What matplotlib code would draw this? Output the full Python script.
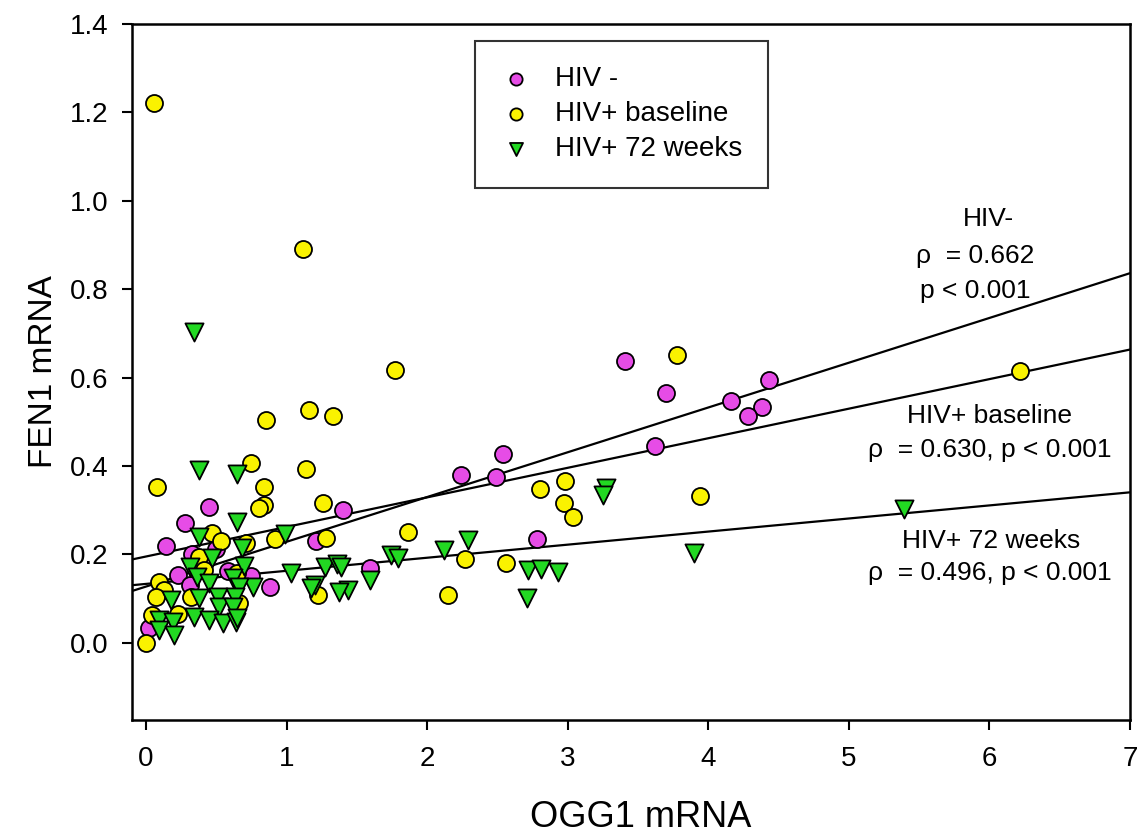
import matplotlib
matplotlib.use("Agg")
import matplotlib.pyplot as plt
import numpy as np

plt.rcParams['font.family'] = ['Liberation Sans', 'DejaVu Sans']

# HIV- (magenta circles)
hivneg_x = [3.41, 3.70, 4.43, 4.16, 4.38, 4.28, 3.62, 2.54, 2.24, 2.49, 1.40, 2.78, 1.59,
            0.45, 0.28, 0.14, 1.21, 0.88, 0.50, 0.23, 0.31, 0.02, 0.75, 0.58, 0.33]
hivneg_y = [0.638, 0.564, 0.595, 0.548, 0.534, 0.514, 0.444, 0.428, 0.379, 0.374, 0.300, 0.234, 0.169,
            0.307, 0.271, 0.219, 0.230, 0.126, 0.212, 0.153, 0.131, 0.034, 0.151, 0.162, 0.200]

# HIV+ baseline (yellow circles)
base_x = [0.06, 1.12, 1.77, 3.78, 6.22, 1.16, 1.33, 0.85, 1.14, 0.75, 0.08, 0.84, 2.80, 2.98,
          2.97, 3.04, 3.94, 1.86, 2.27, 2.56, 2.15, 1.26, 0.84, 0.80, 0.92, 1.28, 0.47, 0.53,
          0.71, 0.38, 0.41, 0.09, 0.13, 0.07, 0.32, 0.04, 0.23, 0.00, 1.22, 0.66, 0.65]
base_y = [1.222, 0.890, 0.618, 0.651, 0.615, 0.527, 0.514, 0.503, 0.394, 0.406, 0.352, 0.352, 0.347, 0.365,
          0.316, 0.284, 0.331, 0.250, 0.189, 0.180, 0.108, 0.316, 0.311, 0.304, 0.234, 0.237, 0.248, 0.230,
          0.225, 0.194, 0.165, 0.138, 0.119, 0.104, 0.104, 0.063, 0.065, 0.000, 0.108, 0.090, 0.158]

# HIV+ 72 weeks (green triangles)
wk72_x = [0.34, 5.39, 0.38, 0.65, 3.27, 3.25, 3.90, 2.29, 2.12, 1.74, 1.79, 2.72, 2.81, 2.93,
          2.71, 1.59, 1.44, 1.37, 0.65, 0.38, 0.99, 0.68, 0.47, 0.31, 0.70, 1.03, 1.27, 1.36,
          1.20, 1.17, 0.36, 0.45, 0.62, 0.76, 0.66, 0.18, 0.38, 0.51, 0.63, 0.52, 0.62, 0.34,
          0.45, 0.55, 0.64, 0.09, 0.19, 0.09, 0.20, 0.65, 1.39]
wk72_y = [0.703, 0.302, 0.390, 0.381, 0.349, 0.334, 0.203, 0.232, 0.210, 0.198, 0.192, 0.165, 0.167, 0.160,
          0.101, 0.142, 0.119, 0.115, 0.273, 0.239, 0.246, 0.214, 0.192, 0.171, 0.174, 0.158, 0.171, 0.178,
          0.131, 0.124, 0.149, 0.135, 0.147, 0.126, 0.126, 0.097, 0.101, 0.104, 0.104, 0.081, 0.081, 0.059,
          0.052, 0.045, 0.047, 0.052, 0.047, 0.029, 0.018, 0.056, 0.171]

# Regression lines (intercept, slope)
fit_hivneg = (0.127, 0.1013)
fit_base = (0.195, 0.0669)
fit_wk72 = (0.133, 0.0296)

labels = ["HIV -", "HIV+ baseline", "HIV+ 72 weeks"]
colors = ["#E64CE6", "#FAF200", "#22D822"]

fig = plt.figure(figsize=(11.4, 8.33), dpi=100)
ax = fig.add_axes([132/1140, 1-720/833, 998/1140, 696/833])

xlim = (-0.1, 7.0)
ax.set_xlim(*xlim)
ax.set_ylim(-0.175, 1.4)

xl = np.array(xlim)
for b0, b1 in (fit_hivneg, fit_base, fit_wk72):
    ax.plot(xl, b0 + b1 * xl, color='black', lw=1.6, zorder=3)

ax.scatter(hivneg_x, hivneg_y, s=150, marker='o', facecolor=colors[0], edgecolor='black',
           linewidths=1.3, zorder=4, label=labels[0])
ax.scatter(base_x, base_y, s=150, marker='o', facecolor=colors[1], edgecolor='black',
           linewidths=1.3, zorder=4, label=labels[1])
ax.scatter(wk72_x, wk72_y, s=170, marker='v', facecolor=colors[2], edgecolor='black',
           linewidths=1.3, zorder=4, label=labels[2])

ax.set_xticks(range(0, 8))
yt = [0.0, 0.2, 0.4, 0.6, 0.8, 1.0, 1.2, 1.4]
ax.set_yticks(yt)
ax.set_yticklabels([f"{v:.1f}" for v in yt])
ax.tick_params(axis='both', direction='out', length=7, width=1.5, top=False, right=False)
ax.tick_params(axis='x', labelsize=20, pad=12)
ax.tick_params(axis='y', labelsize=20, pad=10)
for sp in ax.spines.values():
    sp.set_linewidth(1.8)

ax.set_xlabel("OGG1 mRNA", fontsize=26, labelpad=18)
ax.xaxis.set_label_coords(0.51, -0.115)
ax.set_ylabel("FEN1 mRNA", fontsize=24, labelpad=8)

fs = 19
ax.text(5.99, 0.958, "HIV-", fontsize=fs, ha='center', va='center')
ax.text(5.90, 0.875, "\u03c1  = 0.662", fontsize=fs, ha='center', va='center')
ax.text(5.90, 0.796, "p < 0.001", fontsize=fs, ha='center', va='center')
ax.text(6.00, 0.514, "HIV+ baseline", fontsize=fs, ha='center', va='center')
ax.text(6.00, 0.435, "\u03c1  = 0.630, p < 0.001", fontsize=fs, ha='center', va='center')
ax.text(6.01, 0.230, "HIV+ 72 weeks", fontsize=fs, ha='center', va='center')
ax.text(6.00, 0.158, "\u03c1  = 0.496, p < 0.001", fontsize=fs, ha='center', va='center')

leg = ax.legend(loc='upper left', bbox_to_anchor=(0.344, 0.976), fontsize=20,
                frameon=True, fancybox=False, borderpad=0.92, labelspacing=0.32,
                handlelength=1.1, handletextpad=0.85, markerscale=0.72, borderaxespad=0)
leg.get_frame().set_edgecolor('black')
leg.get_frame().set_linewidth(1.5)

fig.savefig("out.png", dpi=100)
